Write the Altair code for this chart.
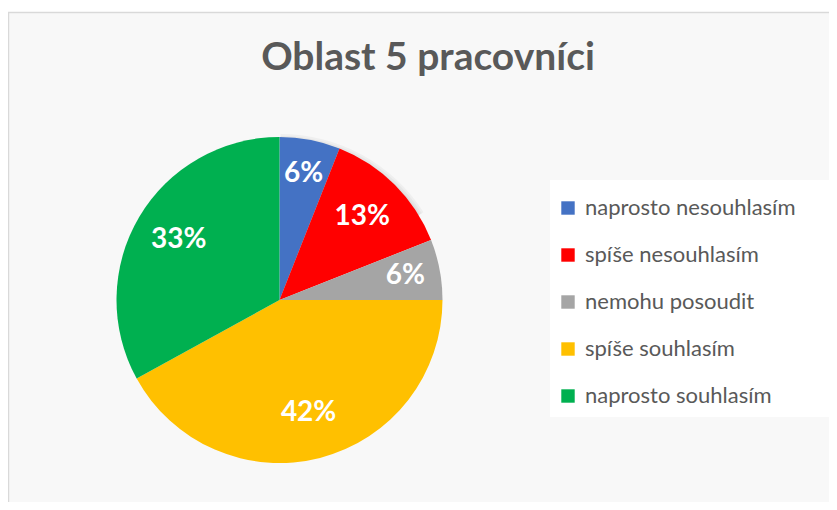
import altair as alt
import pandas as pd

title_text = "Oblast 5 pracovníci"
categories = ["naprosto nesouhlasím", "spíše nesouhlasím", "nemohu posoudit",
              "spíše souhlasím", "naprosto souhlasím"]
percent = [6, 13, 6, 42, 33]
colors = ["#4472C4", "#FF0000", "#A5A5A5", "#FFC000", "#00B050"]

df = pd.DataFrame({"kategorie": categories, "procento": percent,
                   "poradi": list(range(len(categories)))})

W, H = 821, 490
CX, CY = 271.5, 288
R = 163
FONT = "Lato"

shadow_layers = []
for i, extra in enumerate([7, 5, 3]):
    shadow_layers.append(
        alt.Chart(pd.DataFrame({"a": [1]})).mark_arc(
            outerRadius=R + extra, color="#000000", opacity=0.035, stroke=None
        ).encode(theta=alt.Theta("a:Q", scale=None, stack=False),
                 x=alt.value(CX + 1), y=alt.value(CY + 4))
    )

pie = alt.Chart(df).mark_arc(outerRadius=R, stroke=None).encode(
    theta=alt.Theta("procento:Q", stack=True),
    order=alt.Order("poradi:Q"),
    x=alt.value(CX), y=alt.value(CY),
    color=alt.Color("kategorie:N", sort=categories,
                    scale=alt.Scale(domain=categories, range=colors),
                    legend=alt.Legend(title=None, orient="none", legendX=535, legendY=171,
                                      symbolType="square", symbolSize=180,
                                      symbolStrokeWidth=0, labelFontSize=22,
                                      labelFont=FONT, labelColor="#595959",
                                      labelOffset=6, rowPadding=25, padding=14,
                                      labelLimit=400)),
)

labels = alt.Chart(df).transform_joinaggregate(
    celkem="sum(procento)"
).transform_window(
    kum="sum(procento)", sort=[alt.SortField("poradi")]
).transform_calculate(
    popisek="datum.procento + '%'",
    uhel="(datum.kum - datum.procento / 2) / datum.celkem * 2 * PI",
    rr="datum.procento < 10 ? 128 : 117",
).mark_text(font=FONT, fontSize=28, fontWeight="bold", color="white",
            align="center", baseline="middle").encode(
    x=alt.value(CX), y=alt.value(CY),
    theta=alt.Theta("uhel:Q", scale=None),
    radius=alt.Radius("rr:Q", scale=None),
    text="popisek:N",
)

title = alt.Chart(pd.DataFrame({"t": [title_text]})).mark_text(
    font=FONT, fontSize=39, fontWeight="bold", color="#595959",
    align="center", baseline="alphabetic").encode(
    x=alt.value(420), y=alt.value(58), text="t:N")

legend_box = alt.Chart(pd.DataFrame({"a": [0]})).mark_rect(color="white").encode(
    x=alt.value(542), x2=alt.value(W + 20), y=alt.value(168), y2=alt.value(405))

border_top = alt.Chart(pd.DataFrame({"a": [0]})).mark_rule(color="#d9d9d9", strokeWidth=1.5).encode(
    x=alt.value(0), x2=alt.value(W + 20), y=alt.value(0.5))
border_left = alt.Chart(pd.DataFrame({"a": [0]})).mark_rule(color="#d9d9d9", strokeWidth=1.5).encode(
    x=alt.value(0.5), y=alt.value(0), y2=alt.value(H + 20))

chart = alt.layer(legend_box, *shadow_layers, pie, labels, title, border_top, border_left).resolve_scale(
    theta="independent", radius="independent"
).properties(
    width=W, height=H,
    autosize=alt.AutoSizeParams(type="none"),
    padding={"top": 4, "left": 0, "right": 0, "bottom": 0},
    background="white",
).configure_view(stroke=None, fill="#f8f8f8")

chart.save("out.html", embed_options={"renderer": "svg", "actions": False})
